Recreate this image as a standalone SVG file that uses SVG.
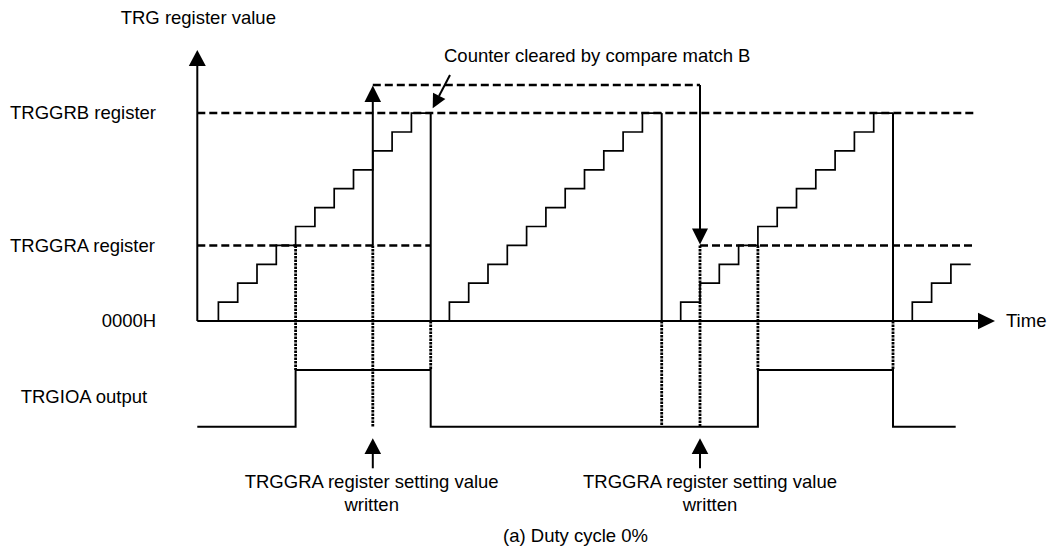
<svg xmlns="http://www.w3.org/2000/svg" width="1049" height="551" viewBox="0 0 1049 551">
<style>
text{font-family:"Liberation Sans",Arial,sans-serif;font-size:18.5px;fill:#000}
.ax{stroke:#000;stroke-width:2;fill:none}
.st{stroke:#000;stroke-width:1.7;fill:none}
.dash{stroke:#000;stroke-width:2.5;stroke-dasharray:8 4;fill:none}
.dot{stroke:#000;stroke-width:2.8;stroke-dasharray:2.5 1;fill:none}
.hd{fill:#000;stroke:none}
</style>
<rect width="1049" height="551" fill="#fff"/>
<g id="labels">
<text x="120.7" y="24">TRG register value</text>
<text x="10" y="118.5">TRGGRB register</text>
<text x="10" y="252.3">TRGGRA register</text>
<text x="101.7" y="327.3">0000H</text>
<text x="20.7" y="403.3">TRGIOA output</text>
<text x="444" y="61.7">Counter cleared by compare match B</text>
<text x="1006" y="326.7">Time</text>
<text x="371.7" y="488.3" text-anchor="middle">TRGGRA register setting value</text>
<text x="371.7" y="510.7" text-anchor="middle">written</text>
<text x="710" y="488.3" text-anchor="middle">TRGGRA register setting value</text>
<text x="710" y="510.7" text-anchor="middle">written</text>
<text x="575.5" y="541.7" text-anchor="middle">(a) Duty cycle 0%</text>
</g>
<g id="reference-lines">
<path class="dash" d="M197.3 113.1H977"/>
<path class="dash" d="M197.3 245.4H430.7"/>
<path class="dash" d="M700 245.4H975"/>
<path class="dash" d="M372.8 85H700"/>
</g>
<g id="dotted-lines">
<path class="dot" d="M295.6 245.4V370"/>
<path class="dot" d="M372.8 245.4V426.7"/>
<path class="dot" d="M430.7 321V370"/>
<path class="dot" d="M661.7 321V426.7"/>
<path class="dot" d="M700 245.4V426.7"/>
<path class="dot" d="M757.9 245.4V370"/>
<path class="dot" d="M893 321V370"/>
</g>
<g id="counter">
<path class="st" d="M218.4 321V302.1H237.7V283.2H257V264.3H276.3V245.4H295.6V226.5H314.9V207.6H334.2V188.7H353.5V169.8H372.8V150.9H392.1V132H411.4V113.1H430.7"/>
<path class="ax" d="M430.7 113.1V321"/>
<path class="st" d="M449.4 321V302.1H468.7V283.2H488V264.3H507.3V245.4H526.6V226.5H545.9V207.6H565.2V188.7H584.5V169.8H603.8V150.9H623.1V132H642.4V113.1H661.7"/>
<path class="ax" d="M661.7 113.1V321"/>
<path class="st" d="M680.7 321V302.1H700V283.2H719.3V264.3H738.6V245.4H757.9V226.5H777.2V207.6H796.5V188.7H815.8V169.8H835.1V150.9H854.4V132H873.7V113.1H893"/>
<path class="ax" d="M893 113.1V321"/>
<path class="st" d="M912.3 321V302.1H931.6V283.2H950.9V264.3H970.7"/>
</g>
<g id="axes">
<path class="ax" d="M197.3 321V62"/>
<polygon class="hd" points="197.3,50 188.8,66 205.8,66"/>
<path class="ax" d="M197.3 321H980"/>
<polygon class="hd" points="995,321 978,312.7 978,329.3"/>
</g>
<g id="connectors">
<path class="ax" d="M372.8 245.4V100"/>
<polygon class="hd" points="372.8,85.5 364.5,102 381.1,102"/>
<path class="ax" d="M700 85V230"/>
<polygon class="hd" points="700,244.5 692,228.5 708,228.5"/>
<path class="ax" d="M450 75L439 96"/>
<polygon class="hd" points="432.7,108.3 445.4,99.1 433,92.7"/>
<path class="ax" d="M372.8 468.3V452"/>
<polygon class="hd" points="372.8,438.3 364.5,454 381.1,454"/>
<path class="ax" d="M700 468.3V452"/>
<polygon class="hd" points="700,438.3 691.7,454 708.3,454"/>
</g>
<g id="trgioa">
<path class="ax" d="M197.3 426.7H295.6V370H430.7V426.7H757.9V370H893V426.7H955.7"/>
</g>
</svg>
